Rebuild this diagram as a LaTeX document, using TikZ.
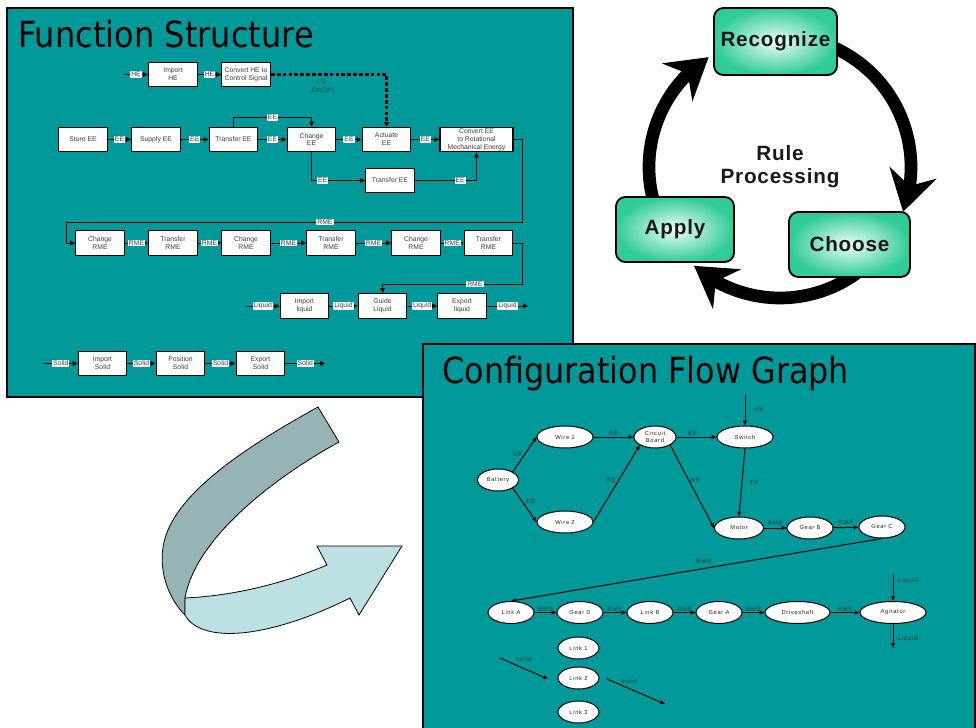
\documentclass[tikz,border=0pt]{standalone}
\usepackage{fontspec}
\setmainfont{Liberation Sans}
\newfontfamily\titlefont{DejaVu Sans}
\newfontfamily\spacedfont[LetterSpace=12]{Liberation Sans}
\newfontfamily\rulefont[LetterSpace=4]{Liberation Sans}
\usetikzlibrary{arrows.meta,shapes.geometric,bending,calc}
\definecolor{panel}{HTML}{009999}
\definecolor{boxtext}{HTML}{404040}
\definecolor{cstext}{HTML}{174F52}
\definecolor{cfgtext}{HTML}{0B3535}
\definecolor{rulegreen}{HTML}{30CC98}
\definecolor{rulelight}{HTML}{EEFDF7}
\definecolor{ribbondark}{HTML}{96B3B5}
\definecolor{ribbonlight}{HTML}{BCE0E3}
\begin{document}
\begin{tikzpicture}[x=0.75pt, y=-0.75pt,
  fbox/.style={draw=black, line width=0.95pt, fill=white, minimum width=36.5pt, minimum height=18.5pt, inner sep=0pt, align=center, text=boxtext, font=\fontsize{5.1}{5.9}\selectfont},
  lbl/.style={fill=white, inner sep=0.8pt, text=boxtext, font=\fontsize{5.1}{5.5}\selectfont},
  farr/.style={line width=0.75pt, -{Triangle[length=3.6pt,width=3.4pt]}},
  ctlarr/.style={line width=1.7pt, dash pattern=on 2.8pt off 1.6pt, -{Triangle[length=3.4pt,width=3.8pt]}},
  cnode/.style={ellipse, draw=black, line width=0.75pt, fill=white, minimum height=16.5pt, inner sep=0pt, align=center, text=black!85, font=\spacedfont\fontsize{4.3}{4.9}\selectfont},
  clbl/.style={inner sep=0.6pt, text=cfgtext, font=\spacedfont\fontsize{4.6}{5}\selectfont},
  carr/.style={line width=0.75pt, -{Triangle[length=3.6pt,width=2.8pt]}},
  rbox/.style={draw=black, line width=1.4pt, rounded corners=7pt, inner color=rulelight, outer color=rulegreen, inner sep=0pt, font=\rulefont\bfseries\fontsize{15.5}{17}\selectfont, text=black!90},
  cycarrow/.style={line width=9.5pt, draw=black, -{Stealth[length=30pt,width=36pt,inset=10pt,flex]}},
  ttl/.style={anchor=base west, inner sep=0pt, font=\titlefont\fontsize{27}{30}\selectfont, text=black},
  ribbon/.style={draw=black, line width=0.6pt}
]
\useasboundingbox (0,0) rectangle (976,728);
\fill[white] (0,0) rectangle (976,728);

% ================= Function Structure panel =================
\draw[fill=panel, line width=0.9pt] (7,8) rectangle (573,397);
\node[ttl] (fstitle) at (18,47) {\scalebox{0.89}[1]{Function Structure}};

% row 1
\coordinate (hein) at (124,74.5);
\node[fbox] (ihe) at (173,74.5) {Import\\HE};
\node[fbox] (che) at (246,74.5) {Convert HE to\\Control Signal};
% row 2
\node[fbox] (see) at (83,139.5) {Store EE};
\node[fbox] (sup) at (156,139.5) {Supply EE};
\node[fbox] (tee) at (233.5,139.5) {Transfer EE};
\node[fbox] (cge) at (311.5,139.5) {Change\\EE};
\node[fbox] (act) at (386.5,139.5) {Actuate\\EE};
\node[fbox, minimum width=54.75pt] (cee) at (476.5,139.5) {Convert EE\\to Rotational\\Mechanical Energy};
\node[fbox] (tee2) at (390,180.5) {Transfer EE};
% row 3
\node[fbox] (cr1) at (100,243) {Change\\RME};
\node[fbox] (tr1) at (173,243) {Transfer\\RME};
\node[fbox] (cr2) at (246,243) {Change\\RME};
\node[fbox] (tr2) at (331,243) {Transfer\\RME};
\node[fbox] (cr3) at (416,243) {Change\\RME};
\node[fbox] (tr3) at (488.5,243) {Transfer\\RME};
% row 4
\coordinate (liqin) at (246,306);
\node[fbox] (il) at (304.5,306) {Import\\liquid};
\node[fbox] (gl) at (382.5,306) {Guide\\Liquid};
\node[fbox] (el) at (462,306) {Export\\liquid};
\coordinate (liqout) at (528,306);
% row 5
\coordinate (solin) at (44,363.5);
\node[fbox] (is) at (102.5,363.5) {Import\\Solid};
\node[fbox] (ps) at (180.5,363.5) {Position\\Solid};
\node[fbox] (es) at (260.5,363.5) {Export\\Solid};
\coordinate (solout) at (325,363.5);

% connectors
\draw[farr] (hein) -- node[lbl]{HE} (ihe);
\draw[farr] (ihe) -- node[lbl]{HE} (che);
\draw[ctlarr] (che.east) -| node[pos=0.22, below=3pt, inner sep=0pt, align=center, text=cstext, font=\fontsize{5}{6.4}\selectfont]{CS\\(On/Off)} (act.north);

\draw[farr] (see) -- node[lbl]{EE} (sup);
\draw[farr] (sup) -- node[lbl]{EE} (tee);
\draw[farr] (tee) -- node[lbl]{EE} (cge);
\draw[farr] (cge) -- node[lbl]{EE} (act);
\draw[farr] (act) -- node[lbl]{EE} (cee);
\draw[farr] (tee.north) -- ++(0,-9) -| node[lbl, pos=0.25]{EE} (cge.north);
\draw[farr] (cge.south) |- node[lbl, pos=0.605]{EE} (tee2.west);
\draw[farr] (tee2.east) -| node[lbl, pos=0.367]{EE} (cee.south);
\draw[farr] (cee.east) -| ($(cee.east)+(9,82.5)$) -- node[lbl, pos=0.433]{RME} ($(cr1.west)+(-9,-21)$) |- (cr1.west);

\draw[farr] (cr1) -- node[lbl]{RME} (tr1);
\draw[farr] (tr1) -- node[lbl]{RME} (cr2);
\draw[farr] (cr2) -- node[lbl]{RME} (tr2);
\draw[farr] (tr2) -- node[lbl]{RME} (cr3);
\draw[farr] (cr3) -- node[lbl]{RME} (tr3);
\draw[farr] (tr3.east) -| ($(tr3.east)+(9,41)$) -| node[lbl, pos=0.17]{RME} (gl.north);

\draw[farr] (liqin) -- node[lbl]{Liquid} (il);
\draw[farr] (il) -- node[lbl]{Liquid} (gl);
\draw[farr] (gl) -- node[lbl]{Liquid} (el);
\draw[farr] (el) -- node[lbl]{Liquid} (liqout);

\draw[farr] (solin) -- node[lbl]{Solid} (is);
\draw[farr] (is) -- node[lbl]{Solid} (ps);
\draw[farr] (ps) -- node[lbl]{Solid} (es);
\draw[farr] (es) -- node[lbl]{Solid} (solout);

% ================= Rule processing cycle =================
\coordinate (cyccenter) at (780,167);
\draw[cycarrow] ([shift={(-65:131)}]cyccenter) arc[start angle=-65, end angle=20, radius=131];
\draw[cycarrow] ([shift={(50:131)}]cyccenter) arc[start angle=50, end angle=131, radius=131];
\draw[cycarrow] ([shift={(162:131)}]cyccenter) arc[start angle=162, end angle=237, radius=131];
\node[rbox, minimum width=92.25pt, minimum height=50.25pt] (rec) at (775.5,41.5) {Recognize};
\node[rbox, minimum width=90.75pt, minimum height=48.75pt] (cho) at (849.5,244.5) {Choose};
\node[rbox, minimum width=88.5pt, minimum height=48.75pt] (app) at (675,229.5) {Apply};
\node[align=center, text=black!90, font=\rulefont\bfseries\fontsize{15.5}{17}\selectfont] (rp) at (780,167) {Rule\\Processing};

% ================= Curved ribbon arrow =================
\filldraw[ribbon, fill=ribbondark] (318,407) -- (339,442) .. controls (270,480) and (195,540) .. (185,598) -- (185,615) .. controls (165,595) and (155,560) .. (168,530) .. controls (185,490) and (240,450) .. (318,407) -- cycle;
\filldraw[ribbon, fill=ribbonlight] (185,598) .. controls (230,596) and (280,585) .. (327,565) -- (317,546) -- (402,546) -- (359,615) -- (350,598) .. controls (290,628) and (235,640) .. (205,630) .. controls (195,627) and (188,621) .. (185,615) -- cycle;

% ================= Configuration Flow Graph panel =================
\draw[fill=panel, line width=0.9pt] (423,344) rectangle (975,731);
\node[ttl] (cfgtitle) at (442,383) {\scalebox{0.885}[1]{Configuration Flow Graph}};

\node[cnode, minimum width=30.75pt] (bat) at (498,480) {Battery};
\node[cnode, minimum width=42pt] (w1) at (565,437) {Wire 1};
\node[cnode, minimum width=42pt] (w2) at (565,522) {Wire 2};
\node[cnode, minimum width=31.5pt] (cb) at (655,437) {Circuit\\Board};
\node[cnode, minimum width=42pt] (sw) at (745,437) {Switch};
\node[cnode, minimum width=36.75pt] (mo) at (739,528) {Motor};
\node[cnode, minimum width=34.5pt] (gb) at (810,528) {Gear B};
\node[cnode, minimum width=34.5pt] (gc) at (882,527) {Gear C};
\node[cnode, minimum width=34.5pt] (la) at (511,612.5) {Link A};
\node[cnode, minimum width=34.5pt] (gd) at (580,612.5) {Gear D};
\node[cnode, minimum width=34.5pt] (lb) at (650,612.5) {Link B};
\node[cnode, minimum width=34.5pt] (ga) at (719,612.5) {Gear A};
\node[cnode, minimum width=48.75pt] (ds) at (797.5,612.5) {Driveshaft};
\node[cnode, minimum width=49.5pt] (ag) at (893,612.5) {Agitator};
\node[cnode, minimum width=30.75pt] (l1) at (578.5,648) {Link 1};
\node[cnode, minimum width=30.75pt] (l2) at (578.5,678) {Link 2};
\node[cnode, minimum width=30.75pt] (l3) at (578.5,712) {Link 3};

\coordinate (hesrc) at (745,394);
\coordinate (liqsrc) at (893,574);
\coordinate (liqdst) at (893,648);
\coordinate (s1a) at (500,658);
\coordinate (s1b) at (548,679);
\coordinate (s2a) at (607,679);
\coordinate (s2b) at (665,704);

\draw[carr] (bat.north east) -- node[clbl, left=1pt]{EE} (w1.west);
\draw[carr] (bat.south east) -- node[clbl, above right=0pt]{EE} (w2.west);
\draw[carr] (w1) -- node[clbl, above=0pt]{EE} (cb);
\draw[carr] (w2.east) -- node[clbl, above left=0pt]{EE} (cb.south west);
\draw[carr] (cb) -- node[clbl, pos=0.4, above=0pt]{EE} (sw);
\draw[carr] (cb.south east) -- node[clbl, pos=0.42, right=1pt]{EE} (mo.west);
\draw[carr] (hesrc) -- node[clbl, right=6pt]{HE} (sw.north);
\draw[carr] (sw.south) -- node[clbl, right=5pt]{EE} (mo.north);
\draw[carr] (mo) -- node[clbl, above=1pt]{RME} (gb);
\draw[carr] (gb) -- node[clbl, above=1pt]{RME} (gc);
\draw[carr] (gc.south) -- node[clbl, pos=0.48, above=3pt]{RME} (la.north);
\draw[carr] (la) -- node[clbl, above=0pt]{RME} (gd);
\draw[carr] (gd) -- node[clbl, above=0pt]{RME} (lb);
\draw[carr] (lb) -- node[clbl, above=0pt]{RME} (ga);
\draw[carr] (ga) -- node[clbl, above=0pt]{RME} (ds);
\draw[carr] (ds) -- node[clbl, above=0pt]{RME} (ag);
\draw[carr] (liqsrc) -- node[clbl, pos=0.26, right=2.5pt]{Liquid} (ag.north);
\draw[carr] (ag.south) -- node[clbl, pos=0.64, right=2.5pt]{Liquid} (liqdst);
\draw[carr] (s1a) -- node[clbl, above=4pt]{solid} (s1b);
\draw[carr] (s2a) -- node[clbl, pos=0.38, above=3pt]{solid} (s2b);
\end{tikzpicture}
\end{document}
